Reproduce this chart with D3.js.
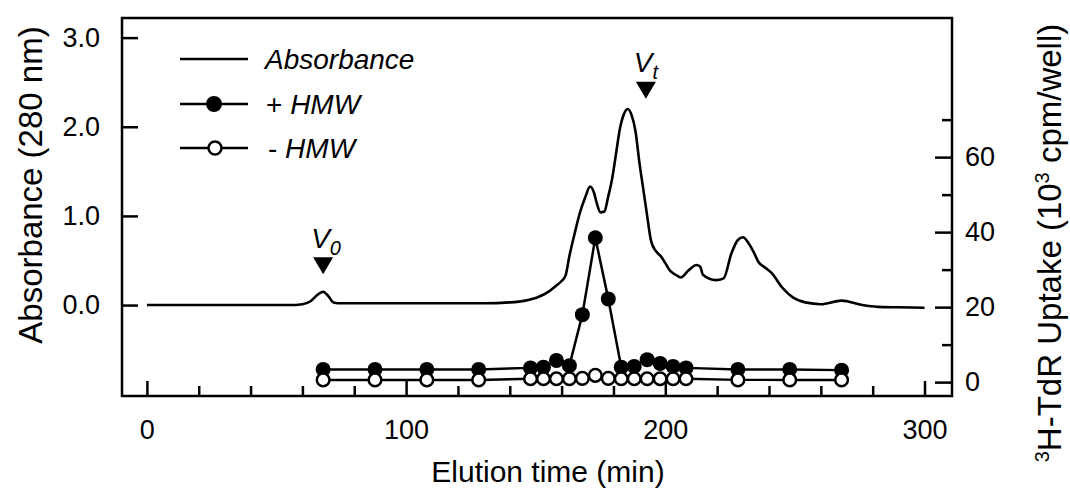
<!DOCTYPE html>
<html>
<head>
<meta charset="utf-8">
<script src="https://d3js.org/d3.v7.min.js"></script>
<style>
  body { margin: 0; background: #fff; }
  svg { display: block; font-family: "Liberation Sans", Arial, sans-serif; }
  .axis path { display: none; }
  .axis line { stroke: #000; stroke-width: 2.5; }
  .axis text { font-size: 27px; fill: #000; font-family: "Liberation Sans", Arial, sans-serif; }
</style>
</head>
<body>
<div id="holder"></div>
<script>
  // Absorbance trace (elution time in min, A280)
  const absTime = [0, 20, 40, 55, 60, 63, 66, 68, 70, 72, 75, 100, 130, 140, 146, 151, 155, 158, 160, 161.5,
    163, 165, 167, 169, 171, 172.5, 173.5, 175, 176.5, 178, 179.5, 181, 182.5, 184, 185.5, 187, 188.5, 190,
    191.5, 193, 194.5, 196.5, 198.5, 200, 202, 204, 206, 209, 212, 213.5, 214.5, 219.5, 222.5, 225.5, 228,
    230, 232, 234, 236, 238.5, 241, 245, 249.5, 254, 260, 268, 276, 282, 290, 300];
  const absValue = [0, 0, 0, 0, 0.01, 0.04, 0.12, 0.15, 0.1, 0.03, 0.02, 0.02, 0.02, 0.03, 0.05, 0.09, 0.15,
    0.22, 0.27, 0.33, 0.55, 0.8, 1.03, 1.2, 1.33, 1.26, 1.15, 1.04, 1.05, 1.22, 1.42, 1.7, 1.98, 2.14, 2.2,
    2.13, 1.95, 1.6, 1.3, 1.0, 0.72, 0.6, 0.54, 0.47, 0.38, 0.34, 0.31, 0.39, 0.45, 0.43, 0.34, 0.28, 0.3,
    0.58, 0.73, 0.76, 0.7, 0.6, 0.48, 0.42, 0.36, 0.2, 0.08, 0.03, 0.01, 0.05, 0.0, -0.02, -0.025, -0.03];

  // 3H-TdR uptake (10^3 cpm/well)
  const fracTime = [68, 88, 108, 128, 148, 153, 158, 163, 168, 173, 178, 183, 188, 193, 198, 203, 208, 228, 248, 268];
  const plusHMW = [3.4, 3.4, 3.4, 3.4, 3.8, 4.0, 5.8, 4.4, 18, 38.5, 22.2, 4.0, 4.2, 6.0, 5.0, 4.2, 3.8, 3.4, 3.4, 3.2];
  const minusHMW = [0.6, 0.6, 0.6, 0.6, 0.9, 0.9, 0.9, 0.9, 1.0, 1.8, 1.0, 0.9, 0.9, 0.9, 0.9, 0.9, 0.9, 0.6, 0.6, 0.6];

  // column markers
  const markerTime = [68, 192.5];
  const markerAbs = [0.44, 2.41];
  const markerSub = ['0', 't'];

  const w = 1070, h = 495;
  const padL = 122, padR = 952, padT = 18, padB = 396;

  const svg = d3.select('#holder').append('svg').attr('width', w).attr('height', h);

  const x = d3.scaleLinear().domain([-9.6, 310.6]).range([padL, padR]);
  const yL = d3.scaleLinear().domain([-1.02, 3.22]).range([padB, padT]);
  const yR = d3.scaleLinear().domain([-3.7, 97.1]).range([padB, padT]);

  // axes (ticks point inward)
  svg.append('g').attr('class', 'axis').attr('transform', 'translate(' + padL + ',0)')
    .call(d3.axisLeft(yL).tickValues([0, 1, 2, 3]).tickFormat(d3.format('.1f'))
      .tickSizeInner(-16).tickSizeOuter(0).tickPadding(22));

  svg.append('g').attr('class', 'axis').attr('transform', 'translate(' + padR + ',0)')
    .call(d3.axisRight(yR).tickValues([0, 20, 40, 60]).tickSizeInner(-17).tickSizeOuter(0).tickPadding(13));
  svg.append('g').attr('class', 'axis').attr('transform', 'translate(' + padR + ',0)')
    .call(d3.axisRight(yR).tickValues([10, 30, 50, 70]).tickFormat('').tickSizeInner(-10).tickSizeOuter(0));

  svg.append('g').attr('class', 'axis').attr('transform', 'translate(0,' + padB + ')')
    .call(d3.axisBottom(x).tickValues([0, 100, 200, 300]).tickSizeInner(-15).tickSizeOuter(0).tickPadding(24));
  svg.append('g').attr('class', 'axis').attr('transform', 'translate(0,' + padB + ')')
    .call(d3.axisBottom(x).tickValues(d3.range(20, 300, 20).filter(d => d % 100 !== 0))
      .tickFormat('').tickSizeInner(-10).tickSizeOuter(0));

  // frame
  svg.append('rect')
    .attr('x', padL).attr('y', padT)
    .attr('width', padR - padL).attr('height', padB - padT)
    .attr('fill', 'none').attr('stroke', '#000').attr('stroke-width', 2.5);

  // absorbance trace
  const absData = absTime.map((t, i) => ({ t: t, v: absValue[i] }));
  svg.append('path')
    .datum(absData)
    .attr('fill', 'none').attr('stroke', '#000').attr('stroke-width', 2.6)
    .attr('stroke-linejoin', 'round')
    .attr('d', d3.line().x(d => x(d.t)).y(d => yL(d.v)).curve(d3.curveMonotoneX));

  // HMW series
  const plusData = fracTime.map((t, i) => ({ t: t, v: plusHMW[i] }));
  const minusData = fracTime.map((t, i) => ({ t: t, v: minusHMW[i] }));
  const lineR = d3.line().x(d => x(d.t)).y(d => yR(d.v));

  svg.append('path').datum(plusData)
    .attr('fill', 'none').attr('stroke', '#000').attr('stroke-width', 2.5).attr('d', lineR);
  svg.selectAll('circle.plus').data(plusData).enter().append('circle')
    .attr('class', 'plus')
    .attr('cx', d => x(d.t)).attr('cy', d => yR(d.v)).attr('r', 7.5)
    .attr('fill', '#000');

  svg.append('path').datum(minusData)
    .attr('fill', 'none').attr('stroke', '#000').attr('stroke-width', 2.5).attr('d', lineR);
  svg.selectAll('circle.minus').data(minusData).enter().append('circle')
    .attr('class', 'minus')
    .attr('cx', d => x(d.t)).attr('cy', d => yR(d.v)).attr('r', 6.3)
    .attr('fill', '#fff').attr('stroke', '#000').attr('stroke-width', 2.5);

  // V0 / Vt markers
  markerTime.forEach((t, i) => {
    const cx = x(t), cy = yL(markerAbs[i]);
    svg.append('path')
      .attr('d', 'M' + (cx - 10) + ',' + (cy - 8.5) + 'L' + (cx + 10) + ',' + (cy - 8.5) + 'L' + cx + ',' + (cy + 8.5) + 'Z')
      .attr('fill', '#000');
    const lbl = svg.append('text')
      .attr('x', cx - 12).attr('y', cy - 18)
      .attr('font-size', 28).attr('font-style', 'italic');
    lbl.append('tspan').text('V');
    lbl.append('tspan').attr('font-size', 20).attr('dy', 7).text(markerSub[i]);
  });

  // legend
  const legend = svg.append('g');
  const legY = [59, 104, 148];
  legend.append('line').attr('x1', 180).attr('x2', 248).attr('y1', legY[0]).attr('y2', legY[0])
    .attr('stroke', '#000').attr('stroke-width', 2.5);
  legend.append('line').attr('x1', 180).attr('x2', 248).attr('y1', legY[1]).attr('y2', legY[1])
    .attr('stroke', '#000').attr('stroke-width', 2.5);
  legend.append('circle').attr('cx', 214).attr('cy', legY[1]).attr('r', 8).attr('fill', '#000');
  legend.append('line').attr('x1', 180).attr('x2', 248).attr('y1', legY[2]).attr('y2', legY[2])
    .attr('stroke', '#000').attr('stroke-width', 2.5);
  legend.append('circle').attr('cx', 215).attr('cy', legY[2]).attr('r', 6.5)
    .attr('fill', '#fff').attr('stroke', '#000').attr('stroke-width', 2.5);

  legend.append('text').attr('x', 265).attr('y', legY[0] + 10).attr('font-size', 28)
    .attr('font-style', 'italic').text('Absorbance');
  const t2 = legend.append('text').attr('x', 266).attr('y', legY[1] + 10).attr('font-size', 28);
  t2.append('tspan').text('+ ');
  t2.append('tspan').attr('font-style', 'italic').text('HMW');
  const t3 = legend.append('text').attr('x', 268).attr('y', legY[2] + 10).attr('font-size', 28);
  t3.append('tspan').text('-  ');
  t3.append('tspan').attr('font-style', 'italic').text('HMW');

  // axis titles
  svg.append('text')
    .attr('transform', 'translate(42,185) rotate(-90)')
    .attr('text-anchor', 'middle').attr('font-size', 33)
    .text('Absorbance (280 nm)');

  svg.append('text')
    .attr('x', 548).attr('y', 482)
    .attr('text-anchor', 'middle').attr('font-size', 30)
    .text('Elution time (min)');

  const rt = svg.append('text')
    .attr('transform', 'translate(1061,243) rotate(-90)')
    .attr('text-anchor', 'middle').attr('font-size', 33);
  rt.append('tspan').attr('font-size', 20).attr('dy', -12).text('3');
  rt.append('tspan').attr('dy', 12).text('H-TdR Uptake (10');
  rt.append('tspan').attr('font-size', 20).attr('dy', -12).text('3');
  rt.append('tspan').attr('dy', 12).text(' cpm/well)');
</script>
</body>
</html>
